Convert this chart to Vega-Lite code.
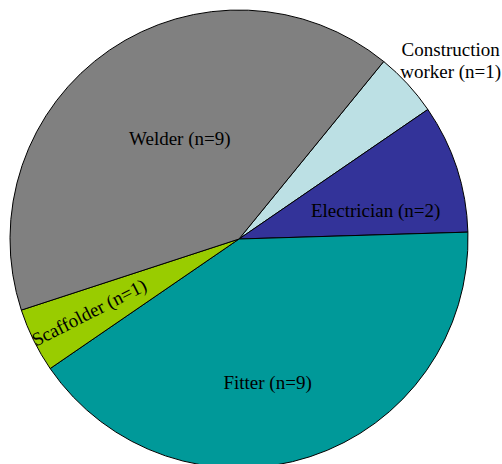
{
  "$schema": "https://vega.github.io/schema/vega-lite/v6.json",
  "autosize": "none",
  "width": 478,
  "height": 478,
  "padding": {"left": 0, "top": 0, "right": 24, "bottom": 0},
  "background": "white",
  "config": {"view": {"stroke": null}, "text": {"font": "Liberation Serif", "fontSize": 19, "color": "black"}},
  "data": {
    "values": [
      {"job": "Construction worker", "n": 1, "rank": 1, "label": "Construction\nworker (n=1)"},
      {"job": "Electrician", "n": 2, "rank": 2, "label": "Electrician (n=2)"},
      {"job": "Fitter", "n": 9, "rank": 3, "label": "Fitter (n=9)"},
      {"job": "Scaffolder", "n": 1, "rank": 4, "label": "Scaffolder (n=1)"},
      {"job": "Welder", "n": 9, "rank": 5, "label": "Welder (n=9)"}
    ]
  },
  "encoding": {
    "theta": {"field": "n", "type": "quantitative", "stack": true, "scale": {"range": [0.684, 6.967]}},
    "order": {"field": "rank", "type": "quantitative"}
  },
  "layer": [
    {
      "mark": {"type": "arc", "radius": 229, "stroke": "black", "strokeWidth": 1},
      "encoding": {
        "color": {
          "field": "job",
          "type": "nominal",
          "legend": null,
          "scale": {
            "domain": ["Construction worker", "Electrician", "Fitter", "Scaffolder", "Welder"],
            "range": ["#bce0e4", "#333399", "#009999", "#99cc00", "#808080"]
          }
        }
      }
    },
    {
      "mark": {"type": "text", "radius": 117, "dx": 7, "dy": -4},
      "encoding": {
        "detail": {"field": "job"},
        "text": {"condition": {"test": "datum.job === 'Welder'", "field": "label"}, "value": ""}
      }
    },
    {
      "mark": {"type": "text", "radius": 150, "dx": -6, "dy": 19},
      "encoding": {
        "detail": {"field": "job"},
        "text": {"condition": {"test": "datum.job === 'Electrician'", "field": "label"}, "value": ""}
      }
    },
    {
      "mark": {"type": "text", "radius": 150, "dx": -18, "dy": 1},
      "encoding": {
        "detail": {"field": "job"},
        "text": {"condition": {"test": "datum.job === 'Fitter'", "field": "label"}, "value": ""}
      }
    },
    {
      "mark": {"type": "text", "radius": 167, "angle": -27},
      "encoding": {
        "detail": {"field": "job"},
        "text": {"condition": {"test": "datum.job === 'Scaffolder'", "field": "label"}, "value": ""}
      }
    },
    {
      "mark": {"type": "text", "radius": 285, "dx": 2, "dy": 4, "lineBreak": "\n", "lineHeight": 22},
      "encoding": {
        "detail": {"field": "job"},
        "text": {"condition": {"test": "datum.job === 'Construction worker'", "field": "label"}, "value": ""}
      }
    }
  ]
}
